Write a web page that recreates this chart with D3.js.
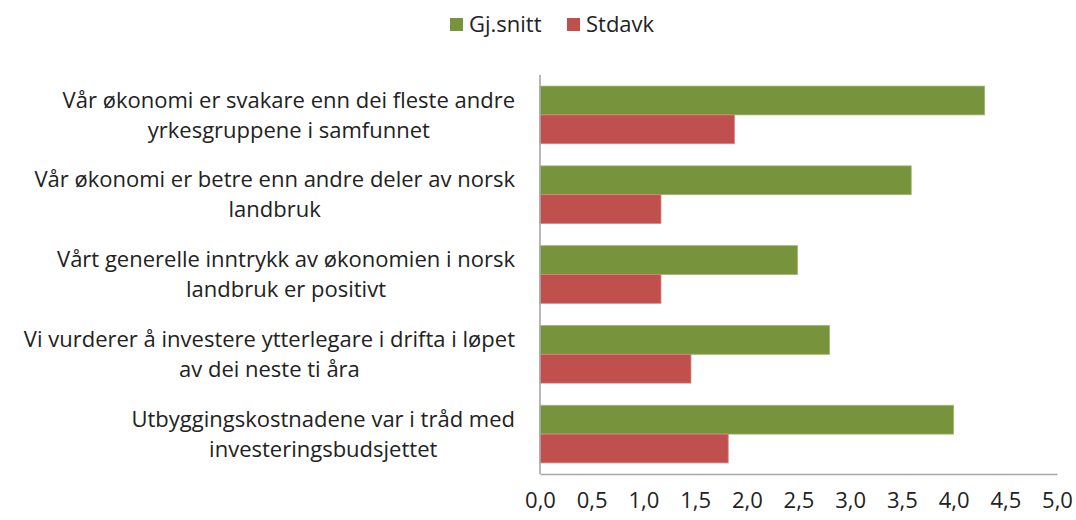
<!DOCTYPE html>
<html>
<head>
<meta charset="utf-8">
<script src="https://cdn.jsdelivr.net/npm/d3@7"></script>
<style>
  html, body { margin: 0; padding: 0; background: #fff; }
  svg { display: block; font-family: "Open Sans", "Noto Sans", sans-serif; }
</style>
</head>
<body>
<svg id="chart" width="1076" height="520"></svg>
<script>
// Statements (each entry is the wrapped lines of one category label)
const categories = [
  ["Vår økonomi er svakare enn dei fleste andre", "yrkesgruppene i samfunnet"],
  ["Vår økonomi er betre enn andre deler av norsk", "landbruk"],
  ["Vårt generelle inntrykk av økonomien i norsk", "landbruk er positivt"],
  ["Vi vurderer å investere ytterlegare i drifta i løpet", "av dei neste ti åra"],
  ["Utbyggingskostnadene var i tråd med", "investeringsbudsjettet"]
];
const seriesNames = ["Gj.snitt", "Stdavk"];
const gjSnitt = [4.30, 3.59, 2.49, 2.80, 4.00];
const stdavk  = [1.88, 1.17, 1.17, 1.46, 1.82];
const xTicks  = [0, 0.5, 1, 1.5, 2, 2.5, 3, 3.5, 4, 4.5, 5];

const colors = ["#77933C", "#C0504D"];
const strokes = ["#9bb86a", "#d98380"];
const fontSize = 22;

const svg = d3.select("#chart");
const plot = { left: 540, right: 1057, top: 75, bottom: 474 };

const x = d3.scaleLinear().domain([0, 5]).range([plot.left, plot.right]);
const y = d3.scaleBand()
  .domain(d3.range(categories.length))
  .range([plot.top, plot.bottom])
  .paddingInner(0.278)
  .paddingOuter(0.139);
const ySub = d3.scaleBand().domain([0, 1]).range([0, y.bandwidth()]);

const rows = categories.map((c, i) => ({ i, values: [gjSnitt[i], stdavk[i]] }));

// Bars
const groups = svg.append("g").selectAll("g")
  .data(rows).join("g")
  .attr("transform", d => `translate(0,${y(d.i)})`);

groups.selectAll("rect")
  .data(d => d.values.map((v, k) => ({ v, k })))
  .join("rect")
  .attr("x", x(0))
  .attr("y", d => ySub(d.k))
  .attr("width", d => x(d.v) - x(0))
  .attr("height", ySub.bandwidth())
  .attr("fill", d => colors[d.k])
  .attr("stroke", d => strokes[d.k])
  .attr("stroke-width", 0.8);

// Value axis with comma decimals
const xAxis = d3.axisBottom(x).tickValues(xTicks).tickSize(0)
  .tickFormat(d => d3.format(".1f")(d).replace(".", ","));
const gx = svg.append("g")
  .attr("transform", `translate(0,${plot.bottom})`)
  .call(xAxis);
gx.select(".domain").attr("stroke", "#a6a6a6").attr("stroke-width", 1.6);
gx.selectAll(".tick text")
  .attr("dy", null)
  .attr("y", 34)
  .attr("fill", "#222")
  .attr("font-size", fontSize)
  .attr("font-family", "\"Open Sans\", sans-serif");

svg.append("line")
  .attr("x1", plot.left).attr("x2", plot.left)
  .attr("y1", plot.top).attr("y2", plot.bottom)
  .attr("stroke", "#a6a6a6").attr("stroke-width", 1.6);

// Category labels: centred lines inside a block right-aligned to the axis
const labelRight = 515;
const lineGap = 30;
const labelG = svg.append("g").attr("font-size", fontSize).attr("fill", "#222");
categories.forEach((lines, i) => {
  const cy = y(i) + y.bandwidth() / 2;
  const t = labelG.append("text").attr("text-anchor", "middle");
  lines.forEach((ln, j) => {
    t.append("tspan").text(ln)
      .attr("y", cy + (j - (lines.length - 1) / 2) * lineGap)
      .attr("dy", "0.35em");
  });
  let maxW = 0;
  t.selectAll("tspan").each(function () {
    maxW = Math.max(maxW, this.getComputedTextLength());
  });
  t.selectAll("tspan").attr("x", labelRight - maxW / 2);
});

// Legend
const legend = svg.append("g").attr("font-size", fontSize).attr("fill", "#222");
const legendX = [450, 567];
seriesNames.forEach((name, k) => {
  legend.append("rect")
    .attr("x", legendX[k]).attr("y", 18)
    .attr("width", 13).attr("height", 13)
    .attr("fill", colors[k]);
  legend.append("text")
    .attr("x", legendX[k] + 19).attr("y", 24)
    .attr("dy", "0.35em")
    .text(name);
});
</script>
</body>
</html>
